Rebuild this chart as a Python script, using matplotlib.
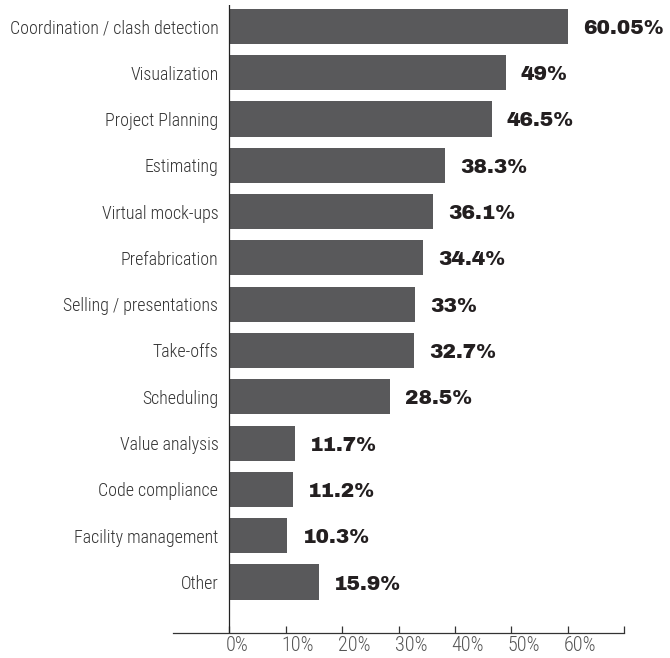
import matplotlib.pyplot as plt
from matplotlib.transforms import ScaledTranslation

categories = ['Coordination / clash detection', 'Visualization', 'Project Planning',
              'Estimating', 'Virtual mock-ups', 'Prefabrication', 'Selling / presentations',
              'Take-offs', 'Scheduling', 'Value analysis', 'Code compliance',
              'Facility management', 'Other']
values = [60.05, 49, 46.5, 38.3, 36.1, 34.4, 33, 32.7, 28.5, 11.7, 11.2, 10.3, 15.9]
value_labels = ['60.05%', '49%', '46.5%', '38.3%', '36.1%', '34.4%', '33%',
                '32.7%', '28.5%', '11.7%', '11.2%', '10.3%', '15.9%']
ticks = [0, 10, 20, 30, 40, 50, 60, 70]
tick_labels = ['0%', '10%', '20%', '30%', '40%', '50%', '60%', '']

bar_color = '#59595b'
label_font = ['Roboto Condensed', 'DejaVu Sans']
value_font = ['Archivo Black', 'DejaVu Sans']

fig = plt.figure(figsize=(6.7, 6.58), dpi=100)
ax = fig.add_axes([173 / 670, 1 - 633 / 658, (624 - 173) / 670, 628 / 658])

pos = list(range(len(categories)))
ax.barh(pos, values, height=0.76, color=bar_color, zorder=2)
ax.set_xlim(-10, 70)
ax.set_ylim(13.1, -0.46)

# left line at zero
ax.axvline(0, color='#222222', lw=0.9, zorder=3)

for i, (cat, v, lab) in enumerate(zip(categories, values, value_labels)):
    ax.annotate(cat, (0, i), xytext=(-11, -2), textcoords='offset pixels',
                ha='right', va='center', fontsize=12.9, family=label_font,
                fontweight='light', color='#333333')
    ax.annotate(lab, (v, i), xytext=(15, -2), textcoords='offset pixels',
                ha='left', va='center', fontsize=14.5,
                family=value_font, color='#231f20')

for s in ['top', 'right', 'left']:
    ax.spines[s].set_visible(False)
ax.spines['bottom'].set_color('#333333')
ax.spines['bottom'].set_linewidth(0.9)

ax.set_yticks([])
ax.set_xticks(ticks)
ax.set_xticklabels(tick_labels, fontsize=14.5, family=label_font,
                   fontweight='light', color='#555555')
ax.tick_params(axis='x', direction='in', length=5, width=0.9, color='#333333', pad=2)
offset = ScaledTranslation(-4 / 100, 0, fig.dpi_scale_trans)
for t in ax.get_xticklabels():
    t.set_ha('left')
    t.set_transform(t.get_transform() + offset)

fig.savefig('out.png', dpi=100)
